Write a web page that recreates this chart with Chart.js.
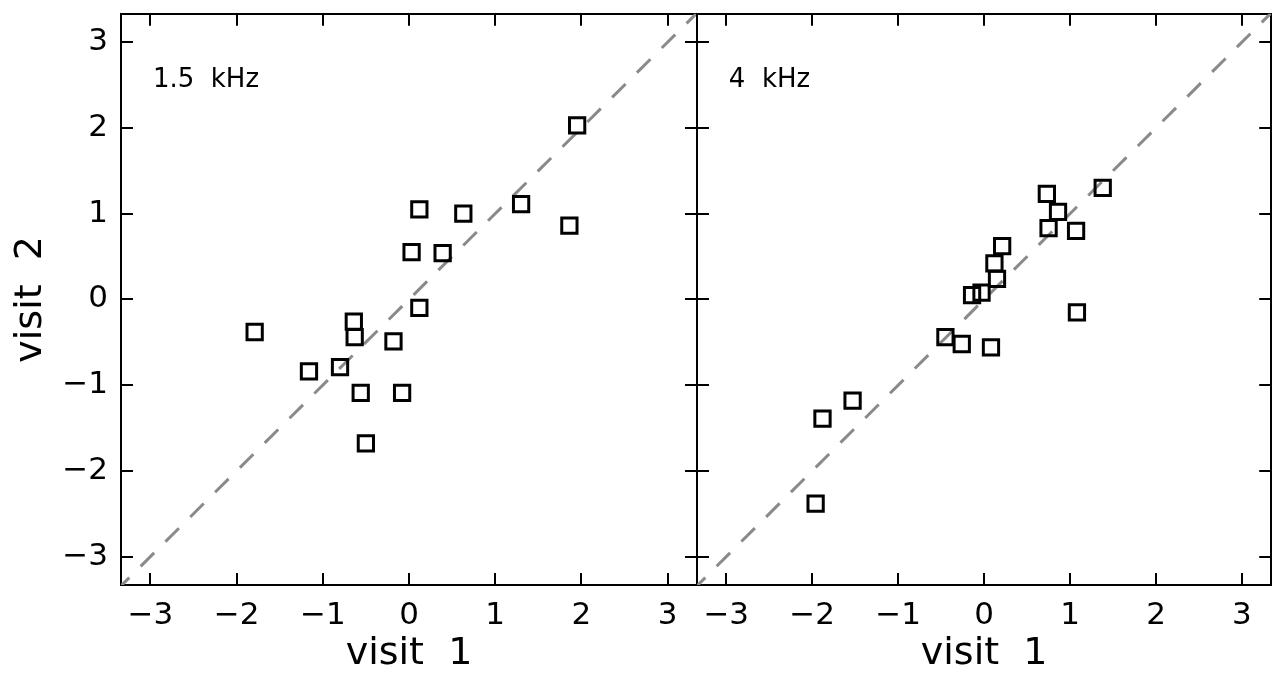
<!DOCTYPE html>
<html>
<head>
<meta charset="utf-8">
<script src="https://cdn.jsdelivr.net/npm/chart.js@4.4.1/dist/chart.umd.min.js"></script>
<style>
  html, body { margin: 0; padding: 0; background: #fff; }
  #wrap { position: relative; width: 1285px; height: 677px; }
  #wrap canvas { position: absolute; left: 0; top: 0; }
</style>
</head>
<body>
<div id="wrap">
  <canvas id="panelLow" width="1285" height="677"></canvas>
  <canvas id="panelHigh" width="1285" height="677"></canvas>
</div>
<script>
// tick marks / labels on both axes
const tickValues = [-3, -2, -1, 0, 1, 2, 3];
const xRange = [-3.34, 3.34];
const yRange = [-3.33, 3.33];
// identity line y = x
const identity = [-3.4, 3.4];

// 1.5 kHz panel
const lowVisit1 = [1.95, 0.12, 0.63, 1.30, 1.86, 0.03, 0.39, 0.12, -1.79, -0.64, -0.63, -0.18, -1.16, -0.80, -0.56, -0.08, -0.50];
const lowVisit2 = [2.03, 1.05, 1.00, 1.11, 0.86, 0.55, 0.54, -0.10, -0.38, -0.26, -0.44, -0.49, -0.84, -0.79, -1.09, -1.09, -1.68];

// 4 kHz panel
const highVisit1 = [0.73, 1.38, 0.86, 0.75, 1.07, 0.21, 0.12, 0.15, -0.14, -0.03, 1.08, -0.45, -0.26, 0.08, -1.53, -1.88, -1.96];
const highVisit2 = [1.23, 1.30, 1.02, 0.83, 0.80, 0.62, 0.42, 0.24, 0.05, 0.08, -0.15, -0.44, -0.52, -0.56, -1.18, -1.39, -2.38];

Chart.defaults.font.family = "'DejaVu Sans', sans-serif";
Chart.defaults.color = '#000';

const fmt = v => (v < 0 ? '\u2212' + Math.abs(v) : String(v));
const setTicks = s => { s.ticks = tickValues.map(v => ({ value: v })); };
// fixed axis box size, no extra room for edge labels
const fixSize = (w, h) => s => {
  if (w !== null) s.width = w;
  if (h !== null) s.height = h;
  s.paddingTop = 0; s.paddingBottom = 0; s.paddingLeft = 0; s.paddingRight = 0;
};

// frequency label in the upper left corner of a panel
const panelLabel = {
  id: 'panelLabel',
  afterDraw(chart, args, opts) {
    if (!opts.text) return;
    const ctx = chart.ctx;
    ctx.save();
    ctx.font = "26px 'DejaVu Sans'";
    ctx.fillStyle = '#000';
    ctx.textAlign = 'left';
    ctx.textBaseline = 'alphabetic';
    ctx.fillText(opts.text, chart.scales.x.getPixelForValue(opts.x), chart.scales.y.getPixelForValue(opts.y));
    ctx.restore();
  }
};

function makePanel(id, xs, ys, label, isLeft) {
  const grid = { drawOnChartArea: false, drawTicks: true, tickLength: -12, color: '#000', lineWidth: 2 };
  const border = { display: true, color: '#000', width: 2 };
  const axisBase = { type: 'linear', afterBuildTicks: setTicks, grid: grid, border: border };

  return new Chart(document.getElementById(id), {
    type: 'scatter',
    data: {
      datasets: [
        {
          type: 'line',
          data: identity.map(v => ({ x: v, y: v })),
          borderColor: '#8a8a8a',
          borderWidth: 3,
          borderDash: [19, 16],
          pointRadius: 0,
          fill: false,
          clip: 0,
          order: 2
        },
        {
          data: xs.map((x, i) => ({ x: x, y: ys[i] })),
          pointStyle: 'rect',
          pointRadius: 10.8,
          borderWidth: 3,
          borderColor: '#000',
          backgroundColor: 'rgba(0,0,0,0)',
          order: 1
        }
      ]
    },
    options: {
      responsive: false,
      animation: false,
      events: [],
      layout: { padding: { left: isLeft ? 0 : 697, right: isLeft ? 588 : 12, top: 9, bottom: 0 } },
      plugins: {
        legend: { display: false },
        tooltip: { enabled: false },
        panelLabel: { text: label, x: -2.97, y: 2.48 }
      },
      scales: {
        x: Object.assign({}, axisBase, {
          position: 'bottom', min: xRange[0], max: xRange[1],
          afterFit: fixSize(null, 92),
          ticks: { padding: 24, font: { size: 31 }, color: '#000', callback: fmt },
          title: { display: true, text: 'visit  1', font: { size: 38 }, color: '#000', padding: { top: 0, bottom: 0 } }
        }),
        x2: Object.assign({}, axisBase, {
          position: 'top', min: xRange[0], max: xRange[1],
          afterFit: fixSize(null, 0),
          ticks: { display: false }
        }),
        y: Object.assign({}, axisBase, {
          position: 'left', min: yRange[0], max: yRange[1],
          afterFit: fixSize(isLeft ? 121 : 0, null),
          ticks: { display: isLeft, padding: 25, font: { size: 31 }, color: '#000', callback: fmt },
          title: { display: isLeft, text: 'visit  2', font: { size: 38 }, color: '#000', padding: { top: 8, bottom: 0 } }
        }),
        y2: Object.assign({}, axisBase, {
          position: 'right', min: yRange[0], max: yRange[1],
          afterFit: fixSize(0, null),
          ticks: { display: false }
        })
      }
    },
    plugins: [panelLabel]
  });
}

makePanel('panelLow', lowVisit1, lowVisit2, '1.5  kHz', true);
makePanel('panelHigh', highVisit1, highVisit2, '4  kHz', false);
</script>
</body>
</html>
